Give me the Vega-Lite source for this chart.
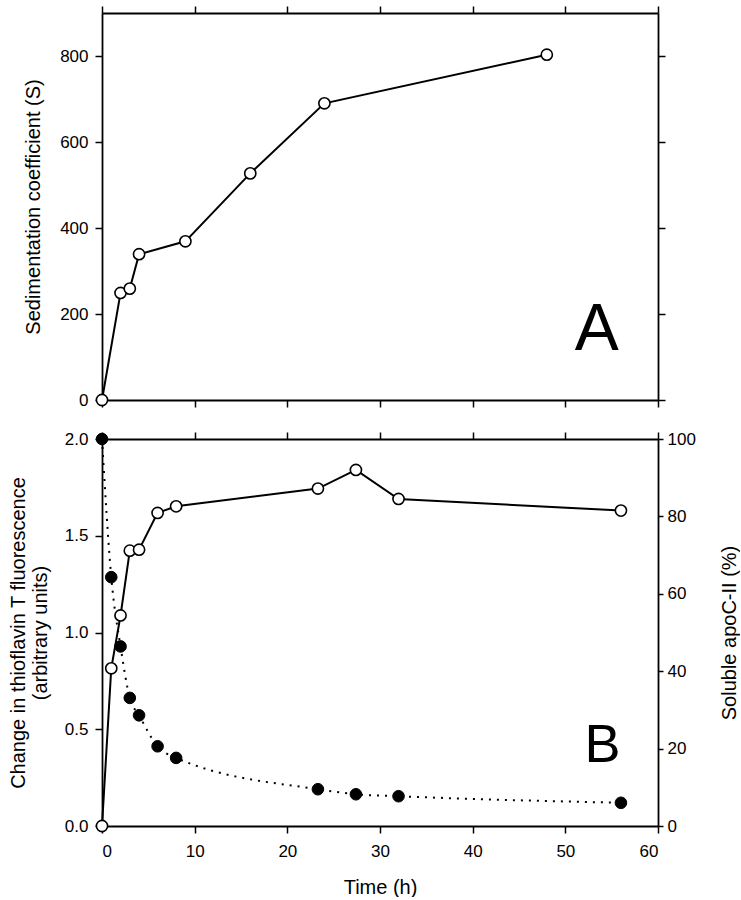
{
  "$schema": "https://vega.github.io/schema/vega-lite/v6.json",
  "background": "white",
  "padding": {"left": 8, "top": 5, "right": 0, "bottom": 0},
  "config": {
    "view": {"stroke": null},
    "font": "Liberation Sans",
    "axis": {
      "grid": false,
      "domainColor": "black",
      "domainWidth": 1.8,
      "tickColor": "black",
      "tickWidth": 1.5,
      "tickSize": 7,
      "labelFont": "Liberation Sans",
      "labelFontSize": 17,
      "labelColor": "black",
      "labelPadding": 7,
      "titleFont": "Liberation Sans",
      "titleFontSize": 20,
      "titleFontWeight": "normal",
      "titleColor": "black"
    }
  },
  "datasets": {
    "sed": [
      {"t": 0, "s": 0}, {"t": 2, "s": 249}, {"t": 3, "s": 259}, {"t": 4, "s": 339},
      {"t": 9, "s": 369}, {"t": 16, "s": 527}, {"t": 24, "s": 690}, {"t": 48, "s": 803}
    ],
    "tht": [
      {"t": 0, "f": 0}, {"t": 1, "f": 0.815}, {"t": 2, "f": 1.088}, {"t": 3, "f": 1.423},
      {"t": 4, "f": 1.428}, {"t": 6, "f": 1.618}, {"t": 8, "f": 1.652}, {"t": 23.3, "f": 1.744},
      {"t": 27.4, "f": 1.84}, {"t": 32, "f": 1.69}, {"t": 56, "f": 1.63}
    ],
    "sol": [
      {"t": 0, "p": 100}, {"t": 1, "p": 64.3}, {"t": 2, "p": 46.4}, {"t": 3, "p": 33.1},
      {"t": 4, "p": 28.6}, {"t": 6, "p": 20.6}, {"t": 8, "p": 17.6}, {"t": 23.3, "p": 9.5},
      {"t": 27.4, "p": 8.2}, {"t": 32, "p": 7.7}, {"t": 56, "p": 6.0}
    ],
    "labA": [{"t": 53.4, "s": 116, "label": "A"}],
    "labB": [{"t": 54, "f": 0.33, "label": "B"}]
  },
  "spacing": 21,
  "vconcat": [
    {
      "width": 556,
      "height": 387,
      "layer": [
        {
          "data": {"name": "sed"},
          "mark": {"type": "line", "color": "black", "strokeWidth": 2},
          "encoding": {
            "x": {"field": "t", "type": "quantitative", "scale": {"domain": [0, 60], "nice": false},
                  "axis": {"orient": "bottom", "values": [0, 10, 20, 30, 40, 50, 60], "labels": false, "title": null}},
            "y": {"field": "s", "type": "quantitative", "scale": {"domain": [0, 900], "nice": false},
                  "axis": {"orient": "left", "values": [0, 200, 400, 600, 800], "title": "Sedimentation coefficient (S)", "titlePadding": 16}}
          }
        },
        {
          "data": {"name": "sed"},
          "mark": {"type": "point", "shape": "circle", "filled": true, "fill": "white", "stroke": "black", "strokeWidth": 1.6, "size": 125, "opacity": 1},
          "encoding": {
            "x": {"field": "t", "type": "quantitative",
                  "axis": {"orient": "top", "values": [0, 10, 20, 30, 40, 50, 60], "labels": false, "title": null}},
            "y": {"field": "s", "type": "quantitative",
                  "axis": {"orient": "right", "values": [0, 200, 400, 600, 800], "labels": false, "title": null}}
          }
        },
        {
          "data": {"name": "labA"},
          "mark": {"type": "text", "fontSize": 66, "font": "Liberation Sans", "align": "center", "baseline": "alphabetic", "color": "black"},
          "encoding": {
            "x": {"field": "t", "type": "quantitative", "axis": null},
            "y": {"field": "s", "type": "quantitative", "axis": null},
            "text": {"field": "label"}
          }
        }
      ],
      "resolve": {"axis": {"x": "independent", "y": "independent"}}
    },
    {
      "width": 556,
      "height": 387,
      "layer": [
        {
          "data": {"name": "sol"},
          "mark": {"type": "line", "color": "black", "strokeWidth": 2, "strokeDash": [2, 6], "interpolate": "monotone"},
          "encoding": {
            "x": {"field": "t", "type": "quantitative", "scale": {"domain": [0, 60], "nice": false},
                  "axis": {"orient": "top", "values": [0, 10, 20, 30, 40, 50, 60], "labels": false, "title": null}},
            "y": {"field": "p", "type": "quantitative", "scale": {"domain": [0, 100], "nice": false},
                  "axis": {"orient": "right", "values": [0, 20, 40, 60, 80, 100], "labelPadding": 4, "tickSize": 5,
                           "title": "Soluble apoC-II (%)", "titleAngle": 270, "titleBaseline": "top", "titlePadding": 24}}
          }
        },
        {
          "data": {"name": "sol"},
          "mark": {"type": "point", "shape": "circle", "filled": true, "fill": "black", "stroke": "black", "strokeWidth": 1, "size": 135, "opacity": 1},
          "encoding": {
            "x": {"field": "t", "type": "quantitative", "axis": null},
            "y": {"field": "p", "type": "quantitative", "scale": {"domain": [0, 100], "nice": false}, "axis": null}
          }
        },
        {
          "data": {"name": "tht"},
          "mark": {"type": "line", "color": "black", "strokeWidth": 2},
          "encoding": {
            "x": {"field": "t", "type": "quantitative",
                  "axis": {"orient": "bottom", "values": [0, 10, 20, 30, 40, 50, 60], "labelPadding": 10, "title": "Time (h)", "titlePadding": 18}},
            "y": {"field": "f", "type": "quantitative", "scale": {"domain": [0, 2], "nice": false},
                  "axis": {"orient": "left", "values": [0, 0.5, 1, 1.5, 2], "format": ".1f",
                           "title": ["Change in thioflavin T fluorescence", "(arbitrary units)"], "titleLineHeight": 22, "titlePadding": 14}}
          }
        },
        {
          "data": {"name": "tht"},
          "mark": {"type": "point", "shape": "circle", "filled": true, "fill": "white", "stroke": "black", "strokeWidth": 1.6, "size": 125, "opacity": 1},
          "encoding": {
            "x": {"field": "t", "type": "quantitative", "axis": null},
            "y": {"field": "f", "type": "quantitative", "scale": {"domain": [0, 2], "nice": false}, "axis": null}
          }
        },
        {
          "data": {"name": "labB"},
          "mark": {"type": "text", "fontSize": 54, "font": "Liberation Sans", "align": "center", "baseline": "alphabetic", "color": "black"},
          "encoding": {
            "x": {"field": "t", "type": "quantitative", "axis": null},
            "y": {"field": "f", "type": "quantitative", "scale": {"domain": [0, 2], "nice": false}, "axis": null},
            "text": {"field": "label"}
          }
        }
      ],
      "resolve": {"scale": {"y": "independent"}, "axis": {"x": "independent", "y": "independent"}}
    }
  ]
}
